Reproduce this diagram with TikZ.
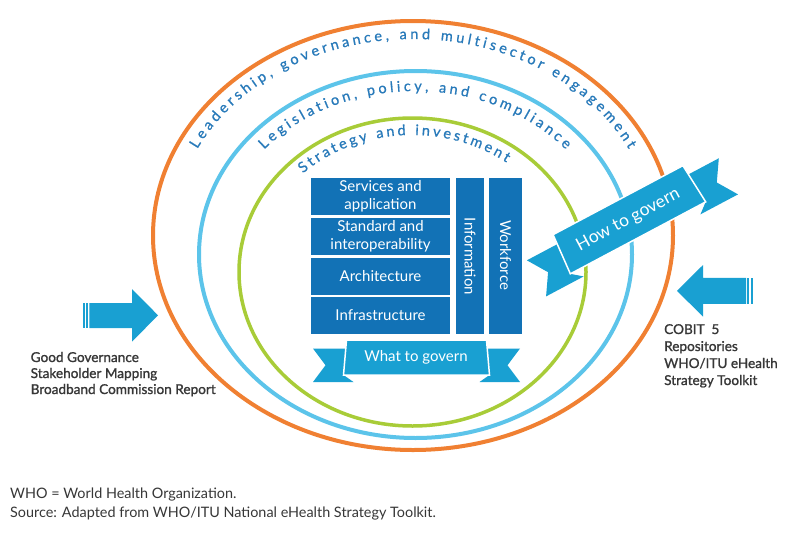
\documentclass[tikz,border=0pt]{standalone}
\usepackage{fontspec}
\setmainfont{Lato}
\newfontfamily\semib[FakeBold=1.2]{Lato}
\newfontfamily\arcfam[FakeBold=0.8]{Lato}
\usetikzlibrary{decorations.text}
\definecolor{orangec}{RGB}{240,128,50}
\definecolor{skyc}{RGB}{92,196,234}
\definecolor{greenc}{RGB}{168,204,56}
\definecolor{boxc}{RGB}{18,114,182}
\definecolor{ribc}{RGB}{25,160,210}
\definecolor{arctxt}{RGB}{40,122,186}
\definecolor{labc}{RGB}{55,55,55}
\newcommand\arcfont{\arcfam\fontsize{14.5}{14.5}\selectfont\color{arctxt}}
\tikzset{
  ring/.style={line width=4pt},
  box/.style={fill=boxc, text=white, align=center, inner sep=0pt,
    font=\fontsize{15}{18.5}\selectfont},
  ribtext/.style={text=white, inner sep=0pt, font=\fontsize{15}{16}\selectfont},
  sidelab/.style={text=labc, inner sep=0pt, anchor=base west, font=\semib\fontsize{13.6}{15}\selectfont},
  notelab/.style={text=labc, inner sep=0pt, anchor=base west, font=\fontsize{14.4}{16}\selectfont},
  flow/.style={fill=ribc},
  ribbon/.pic={
    \fill[ribc] (-103.5,-9) -- (-70,-9) -- (-73,17.5) -- (-63,24.5) -- (-103.5,24.5) -- (-91,7.75) -- cycle;
    \fill[ribc] (103.5,-9) -- (70,-9) -- (73,17.5) -- (63,24.5) -- (103.5,24.5) -- (91,7.75) -- cycle;
    \draw[white, line width=1.5pt, fill=ribc] (-70,-17.5) -- (70,-17.5) -- (73,17.5) -- (-73,17.5) -- cycle;
  }
}
\begin{document}
\begin{tikzpicture}[x=1pt,y=-1pt]
\useasboundingbox[fill=white] (0,0) rectangle (800,533);

% rings
\draw[ring, orangec] (413,235.5) ellipse [x radius=260, y radius=214.5];
\draw[ring, skyc] (415.5,254.5) ellipse [x radius=216.5, y radius=183.5];
\draw[ring, greenc, line width=3.5pt] (412.5,272) ellipse [x radius=173.5, y radius=154];

% ring labels
\path[decorate, decoration={text along path, text align={fit to path},
  text={|\arcfont|Leadership, governance, and multisector engagement}}]
  (413,235) ++(-154:240 and 196) arc[start angle=-154, end angle=-26, x radius=240, y radius=196];
\path[decorate, decoration={text along path, text align={fit to path},
  text={|\arcfont|Legislation, policy, and compliance}}]
  (415,255) ++(-140:197 and 164) arc[start angle=-140, end angle=-40, x radius=197, y radius=164];
\path[decorate, decoration={text along path, text align={fit to path},
  text={|\arcfont|Strategy and investment}}]
  (412,272) ++(-134:157 and 137) arc[start angle=-134, end angle=-53, x radius=157, y radius=137];

% boxes
\node[box, minimum width=139pt, minimum height=37pt] (serv) at (380.5,196.5) {Services and\\application};
\node[box, minimum width=139pt, minimum height=37.5pt] (stand) at (380.5,236.25) {Standard and\\interoperability};
\node[box, minimum width=139pt, minimum height=37pt] (arch) at (380.5,276) {Architecture};
\node[box, minimum width=139pt, minimum height=37pt] (infra) at (380.5,315.5) {Infrastructure};
\node[box, minimum width=28pt, minimum height=156pt] (info) at (470,256) {};
\node[box, rotate=-90] (infot) at (470,256.5) {Information};
\node[box, minimum width=33pt, minimum height=156pt] (work) at (505.5,256) {};
\node[box, rotate=-90] (workt) at (505.5,255) {Workforce};

% ribbons
\pic at (416.5,357.5) {ribbon};
\node[ribtext] (what) at (416,357) {What to govern};
\pic[rotate=28, xscale=1.05, yscale=1.22] at (628,219) {ribbon};
\node[ribtext, rotate=28, font=\fontsize{17.5}{18}\selectfont] (how) at (628.3,220) {How to govern};

% left arrow
\fill[flow] (89.3,303) -- (132,303) -- (132,289) -- (158,315.3) -- (132,341.7) -- (132,328) -- (89.3,328) -- cycle;
\fill[flow] (82.7,303) rectangle (85,328);
\fill[flow] (86.3,303) rectangle (88,328);
% right arrow
\fill[flow] (746,277.8) -- (703,277.8) -- (703,265) -- (677,290.8) -- (703,316.7) -- (703,303.8) -- (746,303.8) -- cycle;
\fill[flow] (747.3,277.8) rectangle (749.3,303.8);
\fill[flow] (750.7,277.8) rectangle (753.3,303.8);

% side labels
\node[sidelab] (l1) at (30.5,362) {Good Governance};
\node[sidelab] (l2) at (30.5,378) {Stakeholder Mapping};
\node[sidelab] (l3) at (30.5,394) {Broadband Commission Report};
\node[sidelab] (r1) at (664,334) {COBIT\,\,\,5};
\node[sidelab] (r2) at (664,351) {Repositories};
\node[sidelab] (r3) at (664,368) {WHO/ITU eHealth};
\node[sidelab] (r4) at (664,385) {Strategy Toolkit};

% notes
\node[notelab] (n1) at (10,498.3) {WHO = World Health Organization.};
\node[notelab] (n2) at (10,517.7) {Source: Adapted from WHO/ITU National eHealth Strategy Toolkit.};
\end{tikzpicture}
\end{document}
